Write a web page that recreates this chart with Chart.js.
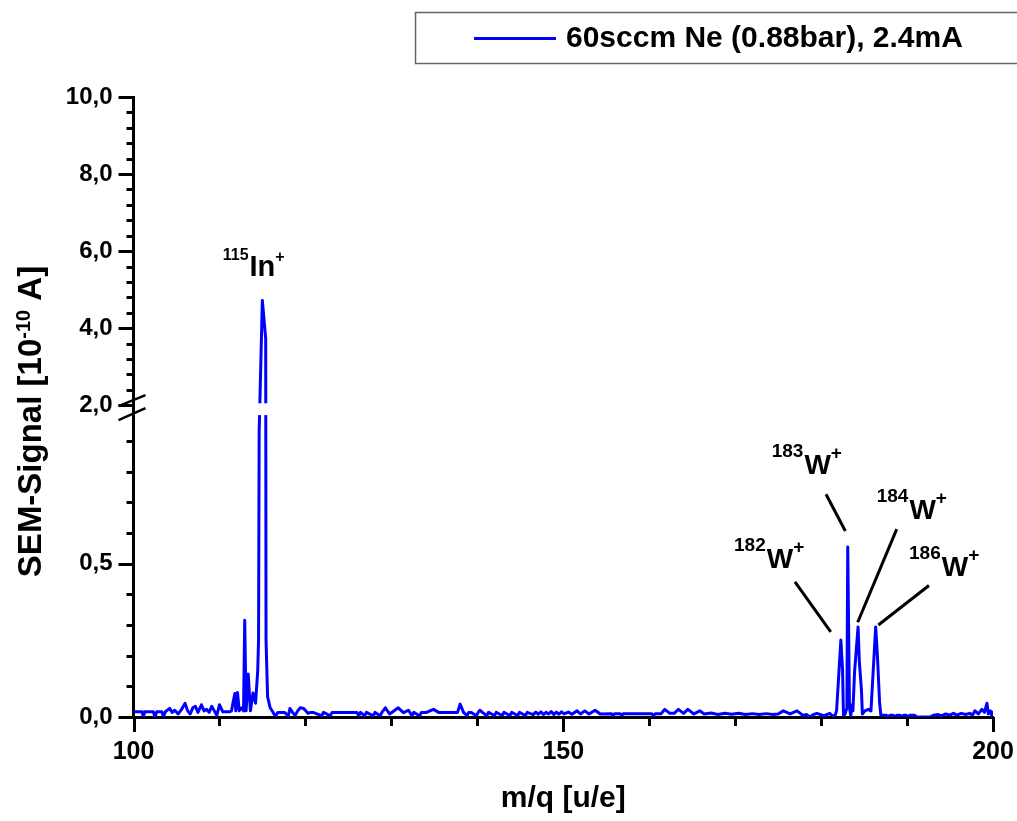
<!DOCTYPE html>
<html><head><meta charset="utf-8">
<script src="https://cdn.jsdelivr.net/npm/chart.js@4.4.1/dist/chart.umd.min.js"></script>
<style>html,body{margin:0;padding:0;background:#fff;}</style>
</head><body>
<canvas id="c" width="1017" height="821" style="display:block;width:1017px;height:821px"></canvas>
<script>
// ---------------- data ----------------
const seriesLabel = '60sccm Ne (0.88bar), 2.4mA';
const massAxis = [
100.0,100.6,101.0,101.15,101.3,102.3,102.5,102.7,103.3,103.5,103.7,104.2,104.5,104.8,105.2,105.6,106.0,106.3,106.6,106.9,
107.2,107.5,107.9,108.2,108.5,108.8,109.1,109.4,109.7,110.0,110.4,110.8,111.2,111.4,111.6,111.8,111.9,112.1,112.3,112.6,
112.8,112.94,113.1,113.35,113.6,113.9,114.2,114.45,114.55,114.62,114.99,115.38,115.42,115.6,115.9,116.2,116.5,116.8,117.6,118.0,
118.2,118.5,118.8,119.1,119.4,119.8,120.3,120.6,120.9,121.9,122.1,122.9,123.1,126.0,126.2,126.4,126.9,127.1,127.9,128.1,
128.7,128.9,129.3,129.8,130.4,130.8,131.4,132.0,132.4,132.6,133.3,133.5,134.1,134.9,135.5,137.7,138.0,138.4,138.8,139.0,
139.3,139.9,140.1,140.3,140.6,141.1,141.3,142.0,142.2,142.9,143.1,143.8,144.0,144.7,144.9,145.6,145.8,146.5,146.8,147.1,
147.4,147.7,148.0,148.3,148.6,148.9,149.2,149.5,149.8,150.1,150.6,151.0,151.6,152.0,152.5,153.0,153.7,154.3,155.6,155.8,
156.0,156.6,156.8,157.0,160.3,160.5,160.7,161.4,161.8,162.4,162.9,163.4,164.0,164.5,165.2,165.9,166.4,167.2,168.0,168.8,
169.6,170.4,171.2,172.0,172.8,173.6,174.4,175.0,175.6,176.4,177.2,177.9,178.3,178.7,179.1,179.5,180.3,181.0,181.2,181.6,
181.8,182.3,182.5,182.6,182.8,183.0,183.1,183.3,183.45,183.6,183.7,183.9,184.3,184.45,184.7,184.8,185.1,185.5,185.8,186.35,
186.55,186.8,186.95,187.2,187.6,187.8,188.0,188.4,188.6,188.8,189.2,189.4,189.6,189.9,190.1,190.3,190.9,191.1,192.7,193.05,
193.6,194.0,194.5,195.0,195.4,195.8,196.3,196.8,197.3,197.6,197.9,198.3,198.7,199.0,199.3,199.45,199.7,199.85,200.0
];
const semSignal = [
0.017,0.017,0.017,0.0,0.017,0.017,0.0,0.017,0.017,0.0,0.017,0.028,0.015,0.022,0.01,0.025,0.045,0.02,0.01,0.03,
0.035,0.015,0.04,0.02,0.025,0.015,0.035,0.02,0.005,0.04,0.017,0.017,0.017,0.02,0.05,0.077,0.02,0.08,0.02,0.03,
0.02,0.316,0.02,0.14,0.02,0.078,0.045,0.15,0.25,0.93,4.72,3.73,0.25,0.066,0.03,0.017,0.002,0.015,0.015,0.003,
0.028,0.015,0.005,0.02,0.03,0.028,0.012,0.015,0.015,0.004,0.015,0.004,0.015,0.015,0.004,0.015,0.004,0.015,0.004,0.015,
0.004,0.015,0.03,0.01,0.022,0.03,0.014,0.022,0.004,0.015,0.004,0.015,0.015,0.025,0.015,0.015,0.042,0.015,0.004,0.015,
0.015,0.004,0.015,0.022,0.015,0.004,0.015,0.005,0.015,0.005,0.015,0.005,0.015,0.005,0.015,0.005,0.015,0.008,0.016,0.009,
0.017,0.008,0.015,0.01,0.018,0.008,0.016,0.009,0.017,0.01,0.016,0.009,0.02,0.01,0.02,0.01,0.022,0.01,0.011,0.005,
0.011,0.011,0.005,0.011,0.011,0.004,0.011,0.011,0.025,0.012,0.012,0.025,0.012,0.025,0.01,0.02,0.01,0.013,0.008,0.012,
0.009,0.012,0.008,0.011,0.008,0.011,0.008,0.01,0.02,0.01,0.02,0.005,0.008,0.0,0.008,0.012,0.004,0.012,0.006,0.003,
0.02,0.251,0.153,0.006,0.01,0.03,0.555,0.03,0.005,0.04,0.02,0.15,0.294,0.18,0.085,0.01,0.02,0.025,0.02,0.294,
0.2,0.05,0.005,0.006,0.006,0.0,0.006,0.006,0.0,0.006,0.006,0.0,0.006,0.006,0.0,0.006,0.006,0.0,0.0,0.006,
0.008,0.004,0.01,0.006,0.012,0.006,0.012,0.008,0.012,0.006,0.02,0.01,0.025,0.015,0.045,0.01,0.02,0.005,0.02
];
const xTickValues = [100, 150, 200];
const xTickLabels = ['100', '150', '200'];
const yTickValues = [0, 0.5, 2, 4, 6, 8, 10];
const yTickLabels = ['0,0', '0,5', '2,0', '4,0', '6,0', '8,0', '10,0'];
const xTitle = 'm/q [u/e]';
const yTitleParts = ['SEM-Signal [10', '-10', ' A]'];
// peak annotations
const peakIsotopes = ['115', '182', '183', '184', '186'];
const peakElements = ['In', 'W', 'W', 'W', 'W'];
const peakLabelX = [110.38, 169.87, 174.25, 186.47, 190.23];
const peakLabelY = [5.35, 0.485, 0.792, 0.645, 0.461];
const leaderFrom = [null, [176.96, 0.441], [180.57, 0.727], [188.8, 0.613], [192.55, 0.429]];
const leaderTo   = [null, [181.12, 0.278], [182.82, 0.607], [184.26, 0.309], [186.66, 0.300]];

// ---------------- broken y axis transform ----------------
const BREAK_LOW = 1.0, BREAK_HIGH = 2.0, LOW_SPAN = 1.0173, HIGH_SCALE = 0.1257;
function toDisplay(v) {
  if (v <= BREAK_LOW) return v;
  if (v < BREAK_HIGH) return BREAK_LOW + (v - BREAK_LOW) / (BREAK_HIGH - BREAK_LOW) * (LOW_SPAN - BREAK_LOW);
  return LOW_SPAN + (v - BREAK_HIGH) * HIGH_SCALE;
}

const FONT = '"Liberation Sans", Arial, Helvetica, sans-serif';
const f = (size) => 'bold ' + size + 'px ' + FONT;

const decor = {
  id: 'decor',
  afterDatasetsDraw(chart) {
    const { ctx, chartArea: a, scales: { y } } = chart;
    const t = y.getPixelForValue(toDisplay(2.05)), b = y.getPixelForValue(0.985);
    ctx.save();
    ctx.fillStyle = '#fff';
    ctx.fillRect(a.left + 2, t, a.right - a.left, b - t);
    ctx.restore();
  },
  afterDraw(chart) {
    const { ctx, chartArea: a, scales: { x, y } } = chart;
    ctx.save();
    ctx.strokeStyle = '#000';
    ctx.lineWidth = 3;
    ctx.lineCap = 'butt';
    // x ticks
    for (let v = 100; v <= 200; v += 10) {
      const px = Math.round(x.getPixelForValue(v)) + 0.5;
      const major = xTickValues.includes(v);
      ctx.beginPath(); ctx.moveTo(px, a.bottom); ctx.lineTo(px, a.bottom + (major ? 15 : 9)); ctx.stroke();
    }
    // y ticks
    const yMinor = [];
    for (let i = 1; i <= 9; i++) if (i !== 5) yMinor.push(i / 10);
    for (let v = 2.4; v < 10; v += 0.4) { const r = Math.round(v * 10) / 10; if (r % 2 !== 0) yMinor.push(r); }
    yMinor.forEach(v => {
      const py = Math.round(y.getPixelForValue(toDisplay(v))) + 0.5;
      ctx.beginPath(); ctx.moveTo(a.left, py); ctx.lineTo(a.left - 7, py); ctx.stroke();
    });
    yTickValues.forEach(v => {
      const py = Math.round(y.getPixelForValue(toDisplay(v))) + 0.5;
      ctx.beginPath(); ctx.moveTo(a.left, py); ctx.lineTo(a.left - 15, py); ctx.stroke();
    });
    // break symbol
    const yb = y.getPixelForValue(toDisplay(2));
    ctx.lineWidth = 2.5;
    ctx.beginPath(); ctx.moveTo(a.left - 15, yb + 1); ctx.lineTo(a.left + 12, yb - 10); ctx.stroke();
    ctx.beginPath(); ctx.moveTo(a.left - 15, yb + 15); ctx.lineTo(a.left + 12, yb + 3); ctx.stroke();

    // leader lines
    ctx.lineWidth = 3;
    for (let i = 0; i < peakIsotopes.length; i++) {
      if (!leaderFrom[i]) continue;
      ctx.beginPath();
      ctx.moveTo(x.getPixelForValue(leaderFrom[i][0]), y.getPixelForValue(toDisplay(leaderFrom[i][1])));
      ctx.lineTo(x.getPixelForValue(leaderTo[i][0]), y.getPixelForValue(toDisplay(leaderTo[i][1])));
      ctx.stroke();
    }
    // peak labels
    ctx.fillStyle = '#000';
    ctx.textBaseline = 'alphabetic';
    ctx.textAlign = 'left';
    for (let i = 0; i < peakIsotopes.length; i++) {
      const isIn = peakElements[i] === 'In';
      const mainSize = isIn ? 29 : 28, supSize = isIn ? 16 : 19, raise = isIn ? 16 : 17;
      let px = x.getPixelForValue(peakLabelX[i]);
      const py = y.getPixelForValue(toDisplay(peakLabelY[i]));
      ctx.font = f(supSize); ctx.fillText(peakIsotopes[i], px, py - raise); px += ctx.measureText(peakIsotopes[i]).width + 1;
      ctx.font = f(mainSize); ctx.fillText(peakElements[i], px, py); px += ctx.measureText(peakElements[i]).width;
      ctx.font = f(supSize); ctx.fillText('+', px, py - raise + 2);
    }
    // y title (rotated, with superscript)
    ctx.save();
    ctx.translate(41, 421.5);
    ctx.rotate(-Math.PI / 2);
    const sizes = [33, 20, 33];
    const lifts = [0, 11, 0];
    let total = 0;
    yTitleParts.forEach((p, i) => { ctx.font = f(sizes[i]); total += ctx.measureText(p).width; });
    let cx = -total / 2;
    yTitleParts.forEach((p, i) => { ctx.font = f(sizes[i]); ctx.fillText(p, cx, -lifts[i]); cx += ctx.measureText(p).width; });
    ctx.restore();

    // legend box
    const ds = chart.data.datasets[0];
    ctx.lineWidth = 1.5;
    ctx.strokeStyle = '#666';
    ctx.strokeRect(415.5, 12.5, 640, 51);
    ctx.strokeStyle = ds.borderColor;
    ctx.lineWidth = 3;
    ctx.beginPath(); ctx.moveTo(474, 38.5); ctx.lineTo(556, 38.5); ctx.stroke();
    ctx.fillStyle = '#000';
    ctx.font = f(30);
    ctx.textBaseline = 'middle';
    ctx.fillText(ds.label, 566, 39);
    ctx.restore();
  }
};

new Chart(document.getElementById('c'), {
  type: 'line',
  data: {
    datasets: [{
      label: seriesLabel,
      data: massAxis.map((m, i) => ({ x: m, y: toDisplay(semSignal[i]) })),
      borderColor: '#0000ff',
      borderWidth: 3,
      pointRadius: 0,
      tension: 0,
      borderJoinStyle: 'round',
      fill: false
    }]
  },
  options: {
    responsive: false,
    animation: false,
    devicePixelRatio: 1,
    layout: { padding: { left: 0, right: 24, top: 97, bottom: 0 } },
    plugins: { legend: { display: false }, tooltip: { enabled: false } },
    scales: {
      x: {
        type: 'linear', min: 100, max: 200,
        afterBuildTicks: s => { s.ticks = xTickValues.map(v => ({ value: v })); },
        afterFit: s => { s.height = 104; s.paddingLeft = 0; s.paddingRight = 0; },
        ticks: { callback: (v, i) => xTickLabels[i], color: '#000', font: { family: FONT, weight: 'bold', size: 25 }, padding: 20, maxRotation: 0, autoSkip: false },
        grid: { display: true, drawOnChartArea: false, drawTicks: false },
        border: { display: true, color: '#000', width: 3 },
        title: { display: true, text: xTitle, color: '#000', font: { family: FONT, weight: 'bold', size: 30 }, padding: { top: 0, bottom: 4 } }
      },
      y: {
        type: 'linear', min: 0, max: toDisplay(10),
        afterBuildTicks: s => { s.ticks = yTickValues.map(v => ({ value: toDisplay(v) })); },
        afterFit: s => { s.width = 133.5; s.paddingTop = 0; s.paddingBottom = 0; },
        ticks: { callback: (v, i) => yTickLabels[i], color: '#000', font: { family: FONT, weight: 'bold', size: 24 }, padding: 21, autoSkip: false },
        grid: { display: true, drawOnChartArea: false, drawTicks: false },
        border: { display: true, color: '#000', width: 3 }
      }
    }
  },
  plugins: [decor]
});
</script>
</body></html>
